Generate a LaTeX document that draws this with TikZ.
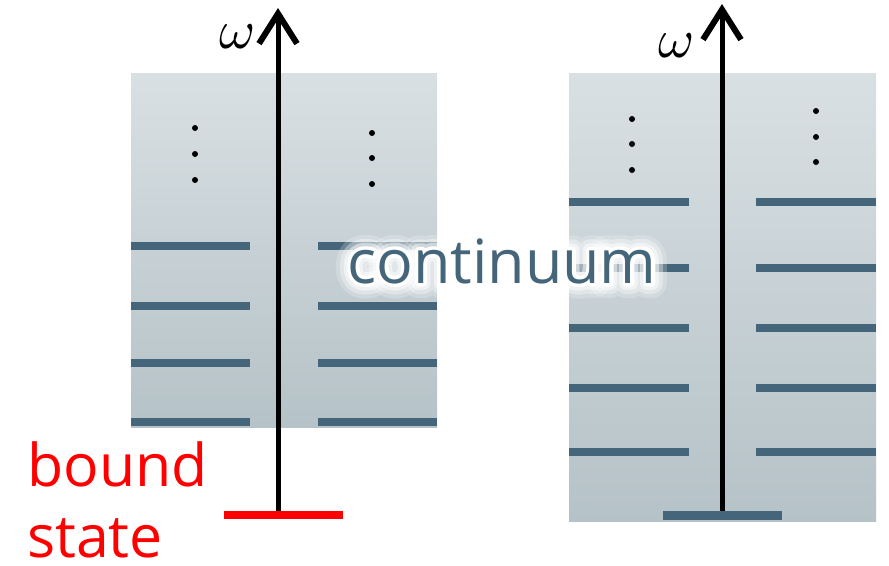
\documentclass[tikz,border=0pt]{standalone}
\usepackage{fontspec}
\setmainfont{Open Sans}
\usetikzlibrary{arrows.meta}
\definecolor{lev}{HTML}{45667A}
\definecolor{bgtop}{HTML}{D9E0E3}
\definecolor{bgbot}{HTML}{B5C2C7}
\definecolor{bred}{HTML}{FF0000}
\newcommand\strokedtext[2]{\special{pdf:literal direct 1 Tr #1 w 1 j}#2\special{pdf:literal direct 0 Tr}}
\tikzset{
  panel/.style={top color=bgtop, bottom color=bgbot, draw=none},
  level/.style={lev, line width=8pt},
  axis/.style={line width=5pt, black, -{Straight Barb[length=30pt,width=38pt,line width=6pt]}},
  dotm/.style={circle, fill=black, inner sep=0pt, minimum size=6pt},
  redtxt/.style={text=bred, font=\fontsize{59}{70}\selectfont, anchor=base west, inner sep=0pt},
  omg/.style={scale=5.5, inner sep=0pt},
  conttxt/.style={font=\fontsize{61}{61}\selectfont, inner sep=0pt, anchor=base}
}
\begin{document}
\begin{tikzpicture}[x=1pt,y=-1pt]
\useasboundingbox (0,0) rectangle (889,565);
% left panel
\fill[panel] (131,73) rectangle (437,427);
\foreach \y in {246,306,363,422}{
  \draw[level] (131,\y) -- (250,\y);
  \draw[level] (318,\y) -- (437,\y);
}
\foreach \y [count=\i] in {128,154,180}{ \node[dotm] (dl\i) at (195,\y) {}; }
\foreach \y [count=\i] in {133,158,184}{ \node[dotm] (dr\i) at (372,\y) {}; }
\coordinate (ab) at (278,513);
\coordinate (at) at (278,8);
\draw[axis] (ab) -- (at);
\node[omg] (w1) at (238,37) {$\omega$};
\draw[bred, line width=8pt] (224,515) -- (343,515);
\node[redtxt] (b1) at (27,486) {bound};
\node[redtxt] (b2) at (27,557) {state};
% right panel
\fill[panel] (569,73) rectangle (876,521);
\foreach \y in {202,268,328,388,452}{
  \draw[level] (569,\y) -- (689,\y);
  \draw[level] (756,\y) -- (876,\y);
}
\foreach \y [count=\i] in {119,144,170}{ \node[dotm] (el\i) at (632,\y) {}; }
\foreach \y [count=\i] in {111,137,162}{ \node[dotm] (er\i) at (816,\y) {}; }
\coordinate (bb) at (722,511);
\coordinate (bt) at (722,4);
\draw[axis] (bb) -- (bt);
\node[omg] (w2) at (677,46) {$\omega$};
\draw[lev, line width=9pt] (663,515) -- (782,515);
% continuum with glow
\begin{scope}[opacity=0.2]
\node[conttxt, text=white] at (502,283) {\strokedtext{30}{continuum}};
\end{scope}
\begin{scope}[opacity=0.35]
\node[conttxt, text=white] at (502,283) {\strokedtext{22}{continuum}};
\end{scope}
\begin{scope}[opacity=0.5]
\node[conttxt, text=white] at (502,283) {\strokedtext{14}{continuum}};
\end{scope}
\node[conttxt, text=white] at (502,283) {\strokedtext{7}{continuum}};
\node[conttxt, text=lev] (cont) at (502,283) {continuum};
\end{tikzpicture}
\end{document}
